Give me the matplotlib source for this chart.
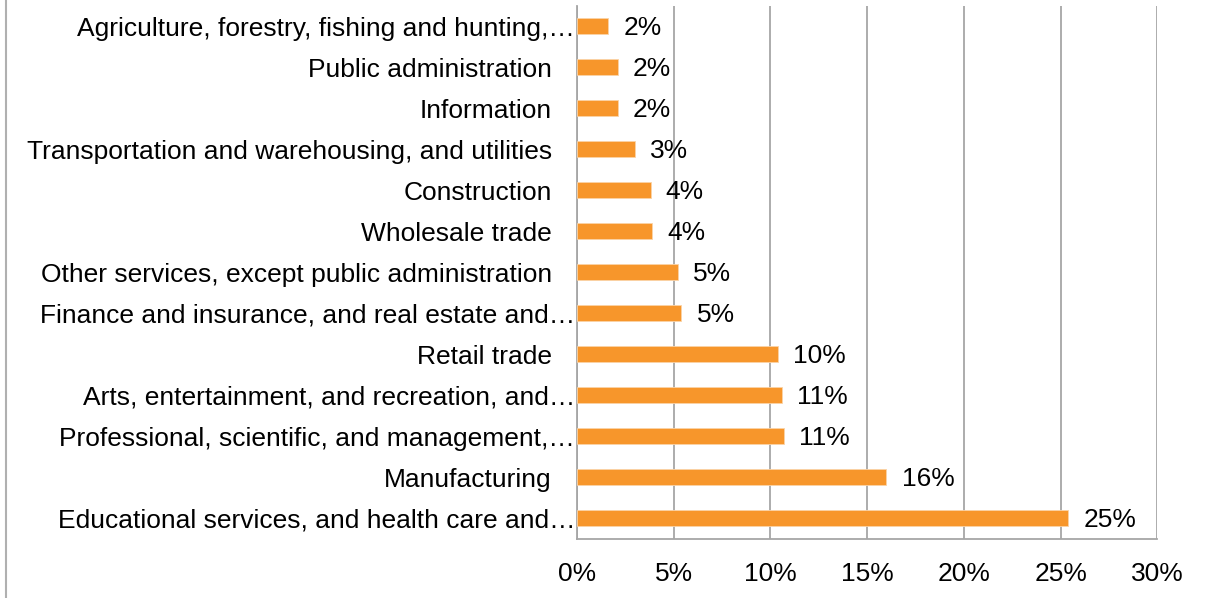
import matplotlib
matplotlib.use("Agg")
import matplotlib.pyplot as plt
from matplotlib.lines import Line2D
from matplotlib.transforms import ScaledTranslation

plt.rcParams['font.family'] = ['Liberation Sans', 'DejaVu Sans']

categories = [
    "Agriculture, forestry, fishing and hunting,…",
    "Public administration",
    "Information",
    "Transportation and warehousing, and utilities",
    "Construction",
    "Wholesale trade",
    "Other services, except public administration",
    "Finance and insurance, and real estate and…",
    "Retail trade",
    "Arts, entertainment, and recreation, and…",
    "Professional, scientific, and management,…",
    "Manufacturing",
    "Educational services, and health care and…",
]
shares = [1.6, 2.1, 2.1, 3.0, 3.8, 3.9, 5.2, 5.4, 10.4, 10.6, 10.7, 16.0, 25.4]
xticks = [0, 5, 10, 15, 20, 25, 30]

W, H = 1213, 598
fig = plt.figure(figsize=(W / 100, H / 100), dpi=100)
ax = fig.add_axes([577 / W, 1 - 538.7 / H, (1157.3 - 577) / W, (538.7 - 6) / H])

bar_color = "#F7962B"
grid_color = "#A6A6A6"
fs = 19

ypos = list(range(len(categories)))
ax.barh(ypos, shares, height=0.39, color=bar_color, edgecolor="#FBD3A6", linewidth=0.6, zorder=3)

for y, v in zip(ypos, shares):
    ax.annotate(f"{round(v):.0f}%", xy=(v, y), xytext=(11, -1), textcoords="offset points",
                ha="left", va="center", fontsize=fs, color="black", zorder=4)

ax.set_xlim(0, 30)
ax.set_ylim(len(categories) - 0.5, -0.5)
ax.set_xticks(xticks)
ax.set_xticklabels([f"{t}%" for t in xticks], fontsize=fs)
ax.set_yticks(ypos)
ax.set_yticklabels(categories, fontsize=fs)
ax.tick_params(axis="both", length=0)
ax.tick_params(axis="x", pad=17)
ax.tick_params(axis="y", pad=18)

# truncated labels sit closer to the axis
for lab in ax.get_yticklabels():
    if lab.get_text().endswith("…"):
        lab.set_transform(lab.get_transform() + ScaledTranslation(23 / 100, 0, fig.dpi_scale_trans))

ax.grid(axis="x", color=grid_color, linewidth=1.3, zorder=0)
ax.grid(axis="y", visible=False)
for side in ("top", "right"):
    ax.spines[side].set_visible(False)
for side in ("left", "bottom"):
    ax.spines[side].set_color(grid_color)
    ax.spines[side].set_linewidth(1.3)

# chart-area border on the left edge
fig.add_artist(Line2D([5.5 / W, 5.5 / W], [0, 1], transform=fig.transFigure,
                      color="#B0B0B0", linewidth=1.5))

fig.savefig("out.png", dpi=100)
